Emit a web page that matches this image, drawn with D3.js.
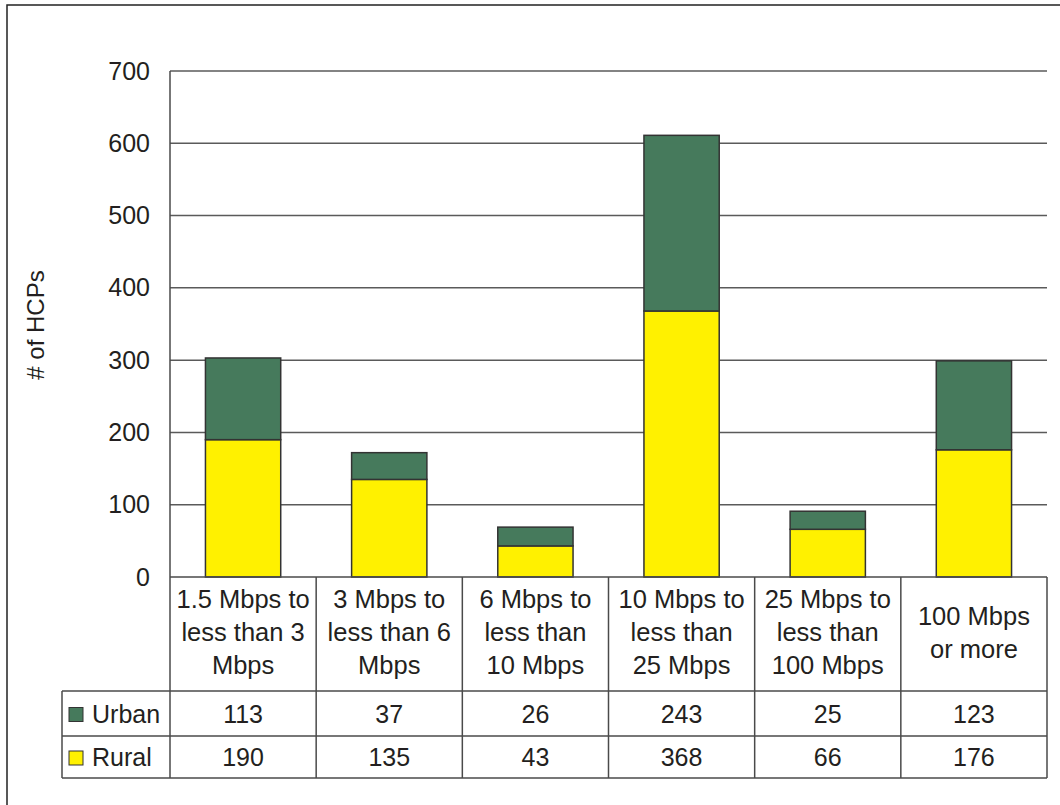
<!DOCTYPE html>
<html>
<head>
<meta charset="utf-8">
<script src="https://cdn.jsdelivr.net/npm/d3@7"></script>
<style>
  html, body { margin: 0; padding: 0; background: #fff; }
  svg { display: block; }
  text { font-family: "Liberation Sans", Arial, sans-serif; fill: #231f20; }
</style>
</head>
<body>
<svg id="chart" width="1060" height="805"></svg>
<script>
// Speed tiers (category labels, one array of lines per tier)
const categories = [
  ["1.5 Mbps to", "less than 3", "Mbps"],
  ["3 Mbps to", "less than 6", "Mbps"],
  ["6 Mbps to", "less than", "10 Mbps"],
  ["10 Mbps to", "less than", "25 Mbps"],
  ["25 Mbps to", "less than", "100 Mbps"],
  ["100 Mbps", "or more"]
];
const urban = [113, 37, 26, 243, 25, 123];
const rural = [190, 135, 43, 368, 66, 176];
const yTicks = [0, 100, 200, 300, 400, 500, 600, 700];

const seriesNames = ["Rural", "Urban"];
const colors = { Rural: "#fff100", Urban: "#467a5c" };

const svg = d3.select("#chart");
const W = 1060, H = 805;

const plot = { left: 170, right: 1047, top: 71, bottom: 577 };
const table = { left: 62, header: 691, row1: 736, row2: 778 };
const lineColor = "#4a4a4a";

// Outer frame
svg.append("rect")
  .attr("x", 7).attr("y", 5)
  .attr("width", W + 20).attr("height", H + 20)
  .attr("fill", "none").attr("stroke", "#222").attr("stroke-width", 1.5);

const x = d3.scaleBand()
  .domain(d3.range(categories.length))
  .range([plot.left, plot.right])
  .paddingInner(0).paddingOuter(0);

const y = d3.scaleLinear().domain([0, 700]).range([plot.bottom, plot.top]);

// Gridlines
svg.append("g")
  .selectAll("line")
  .data(yTicks.filter(d => d > 0))
  .join("line")
  .attr("x1", plot.left).attr("x2", plot.right)
  .attr("y1", d => y(d)).attr("y2", d => y(d))
  .attr("stroke", "#5a5a5a").attr("stroke-width", 1.5);

// Y axis tick labels
const yAxis = d3.axisLeft(y).tickValues(yTicks).tickSize(0).tickPadding(20);
const gy = svg.append("g").attr("transform", `translate(${plot.left},0)`).call(yAxis);
gy.select(".domain").remove();
gy.selectAll("text")
  .attr("font-size", 25)
  .style("font-family", "'Liberation Sans', Arial, sans-serif")
  .attr("fill", "#231f20");

// Y axis title
svg.append("text")
  .attr("transform", `translate(44,325) rotate(-90)`)
  .attr("text-anchor", "middle")
  .attr("font-size", 24)
  .text("# of HCPs");

// Stacked bars
const rows = categories.map((c, i) => ({ i, Rural: rural[i], Urban: urban[i] }));
const stack = d3.stack().keys(seriesNames)(rows);
const barW = x.bandwidth() * 0.515;

svg.append("g")
  .selectAll("g")
  .data(stack)
  .join("g")
  .attr("fill", d => colors[d.key])
  .selectAll("rect")
  .data(d => d)
  .join("rect")
  .attr("x", d => x(d.data.i) + (x.bandwidth() - barW) / 2)
  .attr("width", barW)
  .attr("y", d => y(d[1]))
  .attr("height", d => y(d[0]) - y(d[1]))
  .attr("stroke", "#333")
  .attr("stroke-width", 1.5);

// Data table lines
const tl = svg.append("g").attr("stroke", lineColor).attr("stroke-width", 1.5);
// plot left edge continues down through the table
tl.append("line").attr("x1", plot.left).attr("x2", plot.left).attr("y1", plot.top).attr("y2", table.row2);
// category axis line
tl.append("line").attr("x1", plot.left).attr("x2", plot.right).attr("y1", plot.bottom).attr("y2", plot.bottom);
[table.header, table.row1, table.row2].forEach(yy => {
  tl.append("line").attr("x1", table.left).attr("x2", plot.right).attr("y1", yy).attr("y2", yy);
});
tl.append("line").attr("x1", table.left).attr("x2", table.left).attr("y1", table.header).attr("y2", table.row2);
d3.range(1, categories.length + 1).forEach(i => {
  const xx = i < categories.length ? x(i) : plot.right;
  tl.append("line").attr("x1", xx).attr("x2", xx).attr("y1", plot.bottom).attr("y2", table.row2);
});

// Category labels
const lineH = 33;
const headerMid = (plot.bottom + table.header) / 2;
categories.forEach((lines, i) => {
  const t = svg.append("text")
    .attr("text-anchor", "middle")
    .attr("font-size", 25.5);
  const y0 = headerMid - (lines.length - 1) * lineH / 2 + 7;
  lines.forEach((ln, k) => {
    t.append("tspan")
      .attr("x", x(i) + x.bandwidth() / 2)
      .attr("y", y0 + k * lineH)
      .text(ln);
  });
});

// Table value rows with legend keys
const tableRows = [
  { name: "Urban", values: urban, top: table.header, bottom: table.row1 },
  { name: "Rural", values: rural, top: table.row1, bottom: table.row2 }
];
tableRows.forEach(r => {
  const mid = (r.top + r.bottom) / 2;
  svg.append("rect")
    .attr("x", 69).attr("y", mid - 6)
    .attr("width", 14).attr("height", 14)
    .attr("fill", colors[r.name])
    .attr("stroke", "#333").attr("stroke-width", 1);
  svg.append("text")
    .attr("x", 92).attr("y", mid + 9)
    .attr("font-size", 25)
    .text(r.name);
  r.values.forEach((v, i) => {
    svg.append("text")
      .attr("x", x(i) + x.bandwidth() / 2)
      .attr("y", mid + 9)
      .attr("text-anchor", "middle")
      .attr("font-size", 25)
      .text(v);
  });
});
</script>
</body>
</html>
